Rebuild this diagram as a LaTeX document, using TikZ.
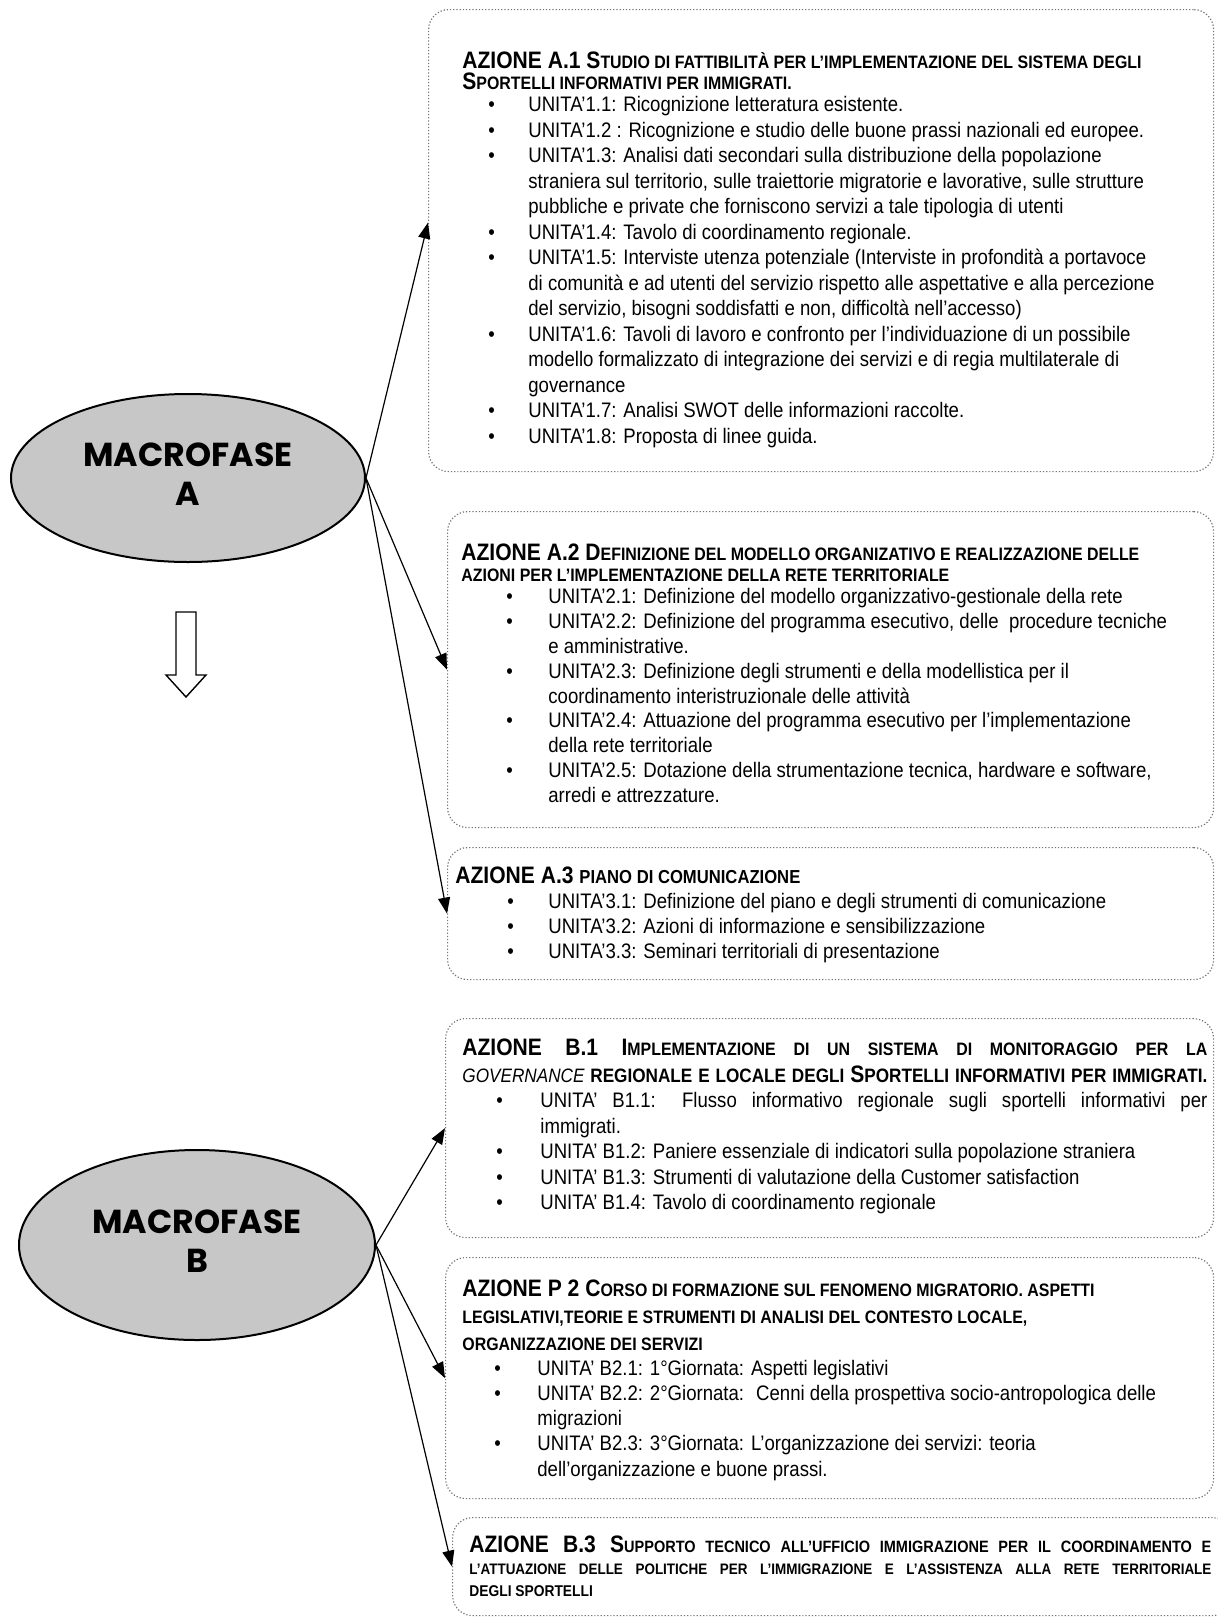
\documentclass[tikz,border=0pt]{standalone}
\usepackage{fontspec}
\setmainfont[FakeStretch=0.885]{Liberation Sans}
\newfontfamily\fasefont{Poppins}
\usetikzlibrary{shapes.geometric,arrows.meta}

% Lista de unidades: #1 = margen del texto, #2 = separacion del punto, #3 = interlinea
\newcommand{\bulletlabel}[1]{\rlap{#1}}
\newenvironment{unidades}[3]{%
  \begin{list}{\textbullet}{%
    \setlength{\leftmargin}{#1}\setlength{\labelwidth}{0pt}%
    \setlength{\labelsep}{#2}\setlength{\itemsep}{0pt}%
    \setlength{\parsep}{0pt}\setlength{\topsep}{0pt}%
    \setlength{\partopsep}{0pt}\let\makelabel\bulletlabel}%
  \mdseries\fontsize{10.5}{#3}\selectfont\raggedright}
  {\end{list}}
% Titulos: versalitas falsas
\newcommand{\titlefont}[1]{\bfseries\fontsize{11.9}{#1}\selectfont\raggedright}
\newcommand{\pc}[2][9]{{\fontsize{#1}{10}\selectfont #2}}

\begin{document}
\begin{tikzpicture}[
    x=0.5pt, y=-0.5pt,
    % Estilos de los nodos
    fase/.style={ellipse, draw=black, line width=1pt, fill=black!22,
        inner sep=0pt,
        font=\fasefont\bfseries\fontsize{16.6}{19.5}\selectfont},
    azbox/.style={draw=black!55, densely dotted, line width=0.6pt,
        rounded corners=10pt, anchor=north west, inner sep=0pt},
    txt/.style={anchor=base west, inner sep=0pt},
    % Estilos de lineas
    flecha/.style={-{Triangle[length=8pt,width=6pt]}, line width=0.6pt},
    hueca/.style={draw=black, line width=0.7pt, fill=white}
]
\useasboundingbox (0,0) rectangle (1217,1617);

% ==========================================
% MACROFASI
% ==========================================
\node[fase, minimum width=177pt, minimum height=84pt] (fa) at (188,478)
    {\raisebox{6.5pt}{\begin{tabular}{@{}c@{}}MACROFASE\\A\end{tabular}}};
\node[fase, minimum width=178pt, minimum height=95pt] (fb) at (197,1245)
    {\raisebox{13pt}{\begin{tabular}{@{}c@{}}MACROFASE\\B\end{tabular}}};

% Freccia vuota tra le due macrofasi
\draw[hueca] (176,612) -- (196,612) -- (196,675) -- (206,675) -- (186,697)
    -- (166,675) -- (176,675) -- cycle;

% ==========================================
% AZIONI MACROFASE A
% ==========================================
\node[azbox, minimum width=392.5pt, minimum height=231pt] (a1) at (428,9) {};
\node[txt] (a1t) at ([shift={(34,59)}]a1.north west) {\parbox[t]{358pt}{%
    {\titlefont{10.5pt}AZIONE A.1 S\pc{TUDIO DI FATTIBILITÀ PER L’IMPLEMENTAZIONE DEL SISTEMA DEGLI}\\
    S\pc{PORTELLI INFORMATIVI PER IMMIGRATI.}\par}
    \vspace{-1.5pt}
    \begin{unidades}{33pt}{20pt}{12.75pt}
    \item UNITA’1.1: Ricognizione letteratura esistente.
    \item UNITA’1.2 : Ricognizione e studio delle buone prassi nazionali ed europee.
    \item UNITA’1.3: Analisi dati secondari sulla distribuzione della popolazione\\
        straniera sul territorio, sulle traiettorie migratorie e lavorative, sulle strutture\\
        pubbliche e private che forniscono servizi a tale tipologia di utenti
    \item UNITA’1.4: Tavolo di coordinamento regionale.
    \item UNITA’1.5: Interviste utenza potenziale (Interviste in profondità a portavoce\\
        di comunità e ad utenti del servizio rispetto alle aspettative e alla percezione\\
        del servizio, bisogni soddisfatti e non, difficoltà nell’accesso)
    \item UNITA’1.6: Tavoli di lavoro e confronto per l’individuazione di un possibile\\
        modello formalizzato di integrazione dei servizi e di regia multilaterale di\\
        governance
    \item UNITA’1.7: Analisi SWOT delle informazioni raccolte.
    \item UNITA’1.8: Proposta di linee guida.
    \end{unidades}}};

\node[azbox, minimum width=383pt, minimum height=158pt] (a2) at (447,511) {};
\node[txt] (a2t) at ([shift={(14,49)}]a2.north west) {\parbox[t]{369pt}{%
    {\titlefont{10.5pt}AZIONE A.2 D\pc{EFINIZIONE DEL MODELLO ORGANIZATIVO E REALIZZAZIONE DELLE}\\
    \pc{AZIONI PER L’IMPLEMENTAZIONE DELLA RETE TERRITORIALE}\par}
    \vspace{-1pt}
    \begin{unidades}{43.5pt}{21pt}{12.4pt}
    \item UNITA’2.1: Definizione del modello organizzativo-gestionale della rete
    \item UNITA’2.2: Definizione del programma esecutivo, delle~ procedure tecniche\\
        e amministrative.
    \item UNITA’2.3: Definizione degli strumenti e della modellistica per il\\
        coordinamento interistruzionale delle attività
    \item UNITA’2.4: Attuazione del programma esecutivo per l’implementazione\\
        della rete territoriale
    \item UNITA’2.5: Dotazione della strumentazione tecnica, hardware e software,\\
        arredi e attrezzature.
    \end{unidades}}};

\node[azbox, minimum width=383pt, minimum height=66pt] (a3) at (447,847) {};
\node[txt] (a3t) at ([shift={(8,36)}]a3.north west) {\parbox[t]{375pt}{%
    {\titlefont{10pt}AZIONE A.3 \pc[9.4]{PIANO DI COMUNICAZIONE}\par}
    \begin{unidades}{46.5pt}{20.5pt}{12.5pt}
    \item UNITA’3.1: Definizione del piano e degli strumenti di comunicazione
    \item UNITA’3.2: Azioni di informazione e sensibilizzazione
    \item UNITA’3.3: Seminari territoriali di presentazione
    \end{unidades}}};

% ==========================================
% AZIONI MACROFASE B
% ==========================================
\node[azbox, minimum width=384pt, minimum height=109.5pt] (b1) at (445,1018) {};
\node[txt] (b1t) at ([shift={(17,37)}]b1.north west) {\parbox[t]{372.5pt}{%
    {\titlefont{13.5pt}\makebox[\linewidth][s]{AZIONE B.1 I\pc{MPLEMENTAZIONE DI UN SISTEMA DI MONITORAGGIO PER LA}}\\
    \makebox[\linewidth][s]{\pc[9.7]{{\mdseries\itshape GOVERNANCE} REGIONALE E LOCALE DEGLI }S\pc[9.7]{PORTELLI INFORMATIVI PER IMMIGRATI.}}\par}
    \begin{unidades}{39pt}{22pt}{12.75pt}
    \item \makebox[\linewidth][s]{UNITA’ B1.1: Flusso informativo regionale sugli sportelli informativi per}\\
        immigrati.
    \item UNITA’ B1.2: Paniere essenziale di indicatori sulla popolazione straniera
    \item UNITA’ B1.3: Strumenti di valutazione della Customer satisfaction
    \item UNITA’ B1.4: Tavolo di coordinamento regionale
    \end{unidades}}};

\node[azbox, minimum width=384pt, minimum height=120.5pt] (b2) at (445,1257) {};
\node[txt] (b2t) at ([shift={(17,39)}]b2.north west) {\parbox[t]{367pt}{%
    {\titlefont{13.5pt}AZIONE P 2 C\pc{ORSO DI FORMAZIONE SUL FENOMENO MIGRATORIO. ASPETTI}\\
    \pc{LEGISLATIVI,TEORIE E STRUMENTI DI ANALISI DEL CONTESTO LOCALE,}\\
    \pc{ORGANIZZAZIONE DEI SERVIZI}\par}
    \begin{unidades}{37.5pt}{21.5pt}{12.6pt}
    \item UNITA’ B2.1: 1°Giornata: Aspetti legislativi
    \item UNITA’ B2.2: 2°Giornata:~ Cenni della prospettiva socio-antropologica delle\\
        migrazioni
    \item UNITA’ B2.3: 3°Giornata: L’organizzazione dei servizi: teoria\\
        dell’organizzazione e buone prassi.
    \end{unidades}}};

\node[azbox, minimum width=390pt, minimum height=49pt] (b3) at (452,1517) {};
\node[txt] (b3t) at ([shift={(17,35)}]b3.north west) {\parbox[t]{371pt}{%
    {\titlefont{11pt}\makebox[\linewidth][s]{AZIONE B.3 S\pc[8.2]{UPPORTO TECNICO ALL’UFFICIO IMMIGRAZIONE PER IL COORDINAMENTO E}}\\
    \makebox[\linewidth][s]{\pc[7.6]{L’ATTUAZIONE DELLE POLITICHE PER L’IMMIGRAZIONE E L’ASSISTENZA ALLA RETE TERRITORIALE}}\\
    \pc[7.8]{DEGLI SPORTELLI}\par}}};

% ==========================================
% COLLEGAMENTI
% ==========================================
\draw[flecha] (fa.east) -- ([yshift=9pt]a1.west);
\draw[flecha] (fa.east) -- (a2.west);
\draw[flecha] (fa.east) -- (a3.west);
\draw[flecha] (fb.east) -- (b1.west);
\draw[flecha] (fb.east) -- (b2.west);
\draw[flecha] (fb.east) -- (b3.west);

\end{tikzpicture}
\end{document}
